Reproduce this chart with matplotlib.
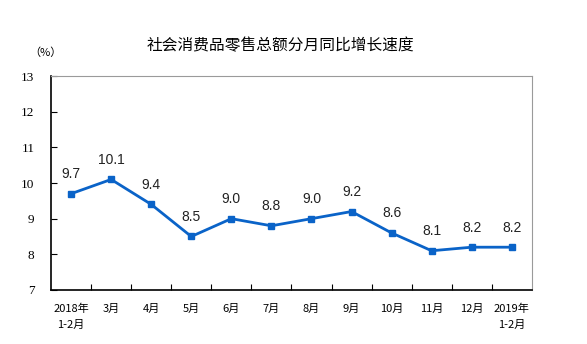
import matplotlib
matplotlib.use("Agg")
import matplotlib.pyplot as plt

# 社会消费品零售总额分月同比增长速度 (%)
months = ["2018年\n1-2月", "3月", "4月", "5月", "6月", "7月", "8月",
          "9月", "10月", "11月", "12月", "2019年\n1-2月"]
growth = [9.7, 10.1, 9.4, 8.5, 9.0, 8.8, 9.0, 9.2, 8.6, 8.1, 8.2, 8.2]
yticks = [7, 8, 9, 10, 11, 12, 13]

LINE = "#0a63c8"
CJK = ["Noto Sans CJK SC", "DejaVu Sans"]

fig = plt.figure(figsize=(5.87, 3.44), dpi=100)
ax = fig.add_axes([0.087, 0.157, 0.819, 0.622])

x = list(range(len(months)))
ax.plot(x, growth, "-s", color=LINE, lw=2.0, ms=5, mfc=LINE, mec=LINE)
for xi, v in zip(x, growth):
    ax.annotate(f"{v:.1f}", (xi, v), xytext=(0, 9), textcoords="offset points",
                ha="center", va="bottom", fontsize=10, color="#222222",
                family="Liberation Sans")

ax.set_xlim(-0.5, len(months) - 0.5)
ax.set_ylim(7, 13)
ax.set_yticks(yticks)
ax.set_yticklabels([str(t) for t in yticks], family="Liberation Serif", fontsize=9.5)
ax.tick_params(axis="y", direction="in", length=4, pad=12)

# ticks between categories, labels centred on the points
ax.set_xticks([i + 0.5 for i in x[:-1]])
ax.set_xticklabels([])
ax.set_xticks(x, minor=True)
ax.set_xticklabels(months, minor=True, family=CJK, fontsize=8, linespacing=1.75)
ax.tick_params(axis="x", which="major", direction="in", length=4)
ax.tick_params(axis="x", which="minor", length=0, pad=10)

for s in ("top", "right"):
    ax.spines[s].set_color("#9a9a9a")
for s in ("left", "bottom"):
    ax.spines[s].set_color("black")
    ax.spines[s].set_linewidth(1.2)

fig.text(0.477, 0.868, "社会消费品零售总额分月同比增长速度", ha="center", va="center",
         family=CJK, fontsize=11.3)
fig.text(0.077, 0.848, "（%）", ha="center", va="center", family=CJK, fontsize=8)

fig.savefig("out.png", dpi=100)
